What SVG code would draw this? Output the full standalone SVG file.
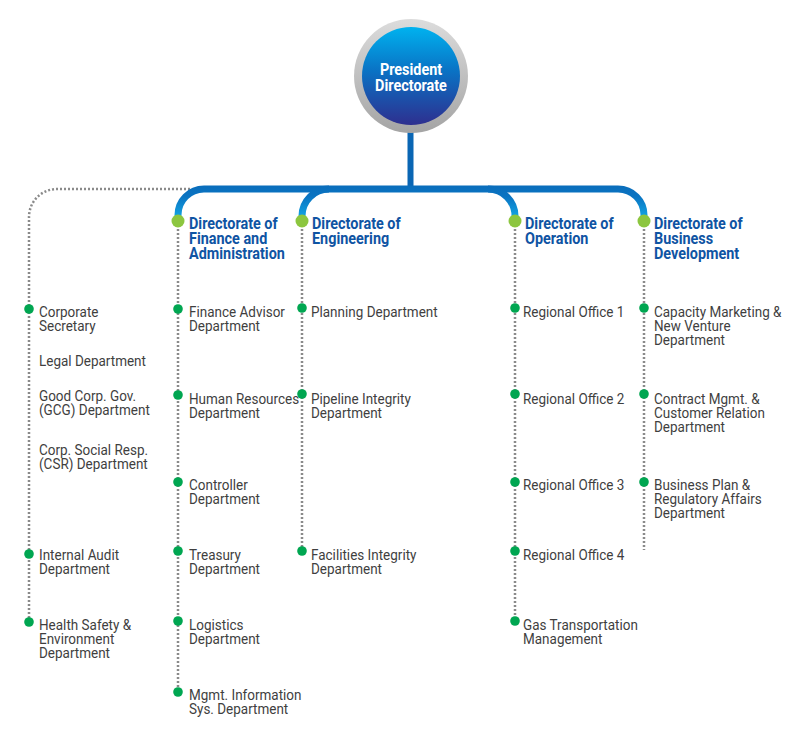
<svg xmlns="http://www.w3.org/2000/svg" width="800" height="744" viewBox="0 0 800 744">
  <defs>
    <linearGradient id="ringGrad" x1="0" y1="0" x2="0" y2="1">
      <stop offset="0" stop-color="#dcdcdc"/>
      <stop offset="1" stop-color="#a4a4a4"/>
    </linearGradient>
    <linearGradient id="coreGrad" x1="0" y1="0" x2="0" y2="1">
      <stop offset="0" stop-color="#00b2ef"/>
      <stop offset="0.45" stop-color="#0a72c4"/>
      <stop offset="1" stop-color="#2e2f8f"/>
    </linearGradient>
    <linearGradient id="barGrad" gradientUnits="userSpaceOnUse" x1="0" y1="185" x2="0" y2="218">
      <stop offset="0" stop-color="#0a6dbb"/>
      <stop offset="0.35" stop-color="#0a74c2"/>
      <stop offset="1" stop-color="#13a6e4"/>
    </linearGradient>
    <style>
      .dot { fill: none; stroke: #8a8a8a; stroke-width: 2.5; stroke-dasharray: 2 2; }
      .bar { fill: none; stroke: url(#barGrad); stroke-width: 7; }
      .head { fill: #8cc63f; }
      .pt { fill: #00a651; }
      .h { font-family: Roboto, "Liberation Sans", sans-serif; font-weight: 700; font-size: 16px; fill: #0f54a3; }
      .t { font-family: Roboto, "Liberation Sans", sans-serif; font-size: 15px; fill: #3f3f3f; }
      .p { font-family: Roboto, "Liberation Sans", sans-serif; font-weight: 700; font-size: 16px; fill: #ffffff; text-anchor: middle; }
    </style>
  </defs>

  <!-- connectors -->
  <g id="connectors">
    <rect x="407.5" y="128" width="6" height="62" fill="#0a66b4"/>
    <path class="dot" d="M190,189 H57 A28 28 0 0 0 29,217 V622"/>
    <path class="dot" d="M178,221 V692"/>
    <path class="dot" d="M302,221 V551"/>
    <path class="dot" d="M515,221 V621"/>
    <path class="dot" d="M644,221 V550"/>
    <path class="bar" d="M178,217 V215 A26 26 0 0 1 204,189 H618 A26 26 0 0 1 644,215 V217"/>
    <path class="bar" d="M329,189 A27 27 0 0 0 302,216 V217"/>
    <path class="bar" d="M488,189 A27 27 0 0 1 515,216 V217"/>
  </g>

  <!-- top node -->
  <g id="president">
    <circle cx="411" cy="76" r="57" fill="url(#ringGrad)"/>
    <circle cx="411" cy="76" r="49" fill="url(#coreGrad)"/>
    <text class="p" transform="translate(411 75) scale(.9 1)"><tspan x="0">President</tspan><tspan x="0" dy="16">Directorate</tspan></text>
  </g>

  <!-- directorates -->
  <g id="dir-finance">
    <circle class="head" cx="178" cy="221" r="6.5"/>
    <text class="h" transform="translate(189 229) scale(.9 1)"><tspan x="0">Directorate of</tspan><tspan x="0" dy="15">Finance and</tspan><tspan x="0" dy="15">Administration</tspan></text>
  </g>
  <g id="dir-engineering">
    <circle class="head" cx="302" cy="221" r="6.5"/>
    <text class="h" transform="translate(312 229) scale(.9 1)"><tspan x="0">Directorate of</tspan><tspan x="0" dy="15">Engineering</tspan></text>
  </g>
  <g id="dir-operation">
    <circle class="head" cx="515" cy="221" r="6.5"/>
    <text class="h" transform="translate(525 229) scale(.9 1)"><tspan x="0">Directorate of</tspan><tspan x="0" dy="15">Operation</tspan></text>
  </g>
  <g id="dir-business">
    <circle class="head" cx="644" cy="221" r="6.5"/>
    <text class="h" transform="translate(654 229) scale(.9 1)"><tspan x="0">Directorate of</tspan><tspan x="0" dy="15">Business</tspan><tspan x="0" dy="15">Development</tspan></text>
  </g>

  <!-- president's office units -->
  <g id="corp-secretary">
    <circle class="pt" cx="29" cy="309" r="4.8"/>
    <text class="t" transform="translate(39 317) scale(.9 1)"><tspan x="0">Corporate</tspan><tspan x="0" dy="14">Secretary</tspan></text>
  </g>
  <g id="legal">
    <text class="t" transform="translate(39 366) scale(.9 1)">Legal Department</text>
  </g>
  <g id="gcg">
    <text class="t" transform="translate(39 401) scale(.9 1)"><tspan x="0">Good Corp. Gov.</tspan><tspan x="0" dy="14">(GCG) Department</tspan></text>
  </g>
  <g id="csr">
    <text class="t" transform="translate(39 455) scale(.9 1)"><tspan x="0">Corp. Social Resp.</tspan><tspan x="0" dy="14">(CSR) Department</tspan></text>
  </g>
  <g id="internal-audit">
    <circle class="pt" cx="29" cy="554" r="4.8"/>
    <text class="t" transform="translate(39 560) scale(.9 1)"><tspan x="0">Internal Audit</tspan><tspan x="0" dy="14">Department</tspan></text>
  </g>
  <g id="hse">
    <circle class="pt" cx="29" cy="622" r="4.8"/>
    <text class="t" transform="translate(39 630) scale(.9 1)"><tspan x="0">Health Safety &amp;</tspan><tspan x="0" dy="14">Environment</tspan><tspan x="0" dy="14">Department</tspan></text>
  </g>

  <!-- finance and administration -->
  <g id="finance-advisor">
    <circle class="pt" cx="178" cy="309" r="4.8"/>
    <text class="t" transform="translate(189 317) scale(.9 1)"><tspan x="0">Finance Advisor</tspan><tspan x="0" dy="14">Department</tspan></text>
  </g>
  <g id="human-resources">
    <circle class="pt" cx="178" cy="395" r="4.8"/>
    <text class="t" transform="translate(189 404) scale(.9 1)"><tspan x="0">Human Resources</tspan><tspan x="0" dy="14">Department</tspan></text>
  </g>
  <g id="controller">
    <circle class="pt" cx="178" cy="482" r="4.8"/>
    <text class="t" transform="translate(189 490) scale(.9 1)"><tspan x="0">Controller</tspan><tspan x="0" dy="14">Department</tspan></text>
  </g>
  <g id="treasury">
    <circle class="pt" cx="178" cy="551" r="4.8"/>
    <text class="t" transform="translate(189 560) scale(.9 1)"><tspan x="0">Treasury</tspan><tspan x="0" dy="14">Department</tspan></text>
  </g>
  <g id="logistics">
    <circle class="pt" cx="178" cy="621" r="4.8"/>
    <text class="t" transform="translate(189 630) scale(.9 1)"><tspan x="0">Logistics</tspan><tspan x="0" dy="14">Department</tspan></text>
  </g>
  <g id="mis">
    <circle class="pt" cx="178" cy="692" r="4.8"/>
    <text class="t" transform="translate(189 700) scale(.9 1)"><tspan x="0">Mgmt. Information</tspan><tspan x="0" dy="14">Sys. Department</tspan></text>
  </g>

  <!-- engineering -->
  <g id="planning">
    <circle class="pt" cx="302" cy="308" r="4.8"/>
    <text class="t" transform="translate(311 317) scale(.9 1)">Planning Department</text>
  </g>
  <g id="pipeline-integrity">
    <circle class="pt" cx="302" cy="394" r="4.8"/>
    <text class="t" transform="translate(311 404) scale(.9 1)"><tspan x="0">Pipeline Integrity</tspan><tspan x="0" dy="14">Department</tspan></text>
  </g>
  <g id="facilities-integrity">
    <circle class="pt" cx="302" cy="551" r="4.8"/>
    <text class="t" transform="translate(311 560) scale(.9 1)"><tspan x="0">Facilities Integrity</tspan><tspan x="0" dy="14">Department</tspan></text>
  </g>

  <!-- operation -->
  <g id="regional-1">
    <circle class="pt" cx="515" cy="308" r="4.8"/>
    <text class="t" transform="translate(523 317) scale(.9 1)">Regional Office 1</text>
  </g>
  <g id="regional-2">
    <circle class="pt" cx="515" cy="394" r="4.8"/>
    <text class="t" transform="translate(523 404) scale(.9 1)">Regional Office 2</text>
  </g>
  <g id="regional-3">
    <circle class="pt" cx="515" cy="482" r="4.8"/>
    <text class="t" transform="translate(523 490) scale(.9 1)">Regional Office 3</text>
  </g>
  <g id="regional-4">
    <circle class="pt" cx="515" cy="551" r="4.8"/>
    <text class="t" transform="translate(523 560) scale(.9 1)">Regional Office 4</text>
  </g>
  <g id="gas-transportation">
    <circle class="pt" cx="515" cy="621" r="4.8"/>
    <text class="t" transform="translate(523 630) scale(.9 1)"><tspan x="0">Gas Transportation</tspan><tspan x="0" dy="14">Management</tspan></text>
  </g>

  <!-- business development -->
  <g id="capacity-marketing">
    <circle class="pt" cx="644" cy="308" r="4.8"/>
    <text class="t" transform="translate(654 317) scale(.9 1)"><tspan x="0">Capacity Marketing &amp;</tspan><tspan x="0" dy="14">New Venture</tspan><tspan x="0" dy="14">Department</tspan></text>
  </g>
  <g id="contract-mgmt">
    <circle class="pt" cx="644" cy="394" r="4.8"/>
    <text class="t" transform="translate(654 404) scale(.9 1)"><tspan x="0">Contract Mgmt. &amp;</tspan><tspan x="0" dy="14">Customer Relation</tspan><tspan x="0" dy="14">Department</tspan></text>
  </g>
  <g id="business-plan">
    <circle class="pt" cx="644" cy="482" r="4.8"/>
    <text class="t" transform="translate(654 490) scale(.9 1)"><tspan x="0">Business Plan &amp;</tspan><tspan x="0" dy="14">Regulatory Affairs</tspan><tspan x="0" dy="14">Department</tspan></text>
  </g>
</svg>
